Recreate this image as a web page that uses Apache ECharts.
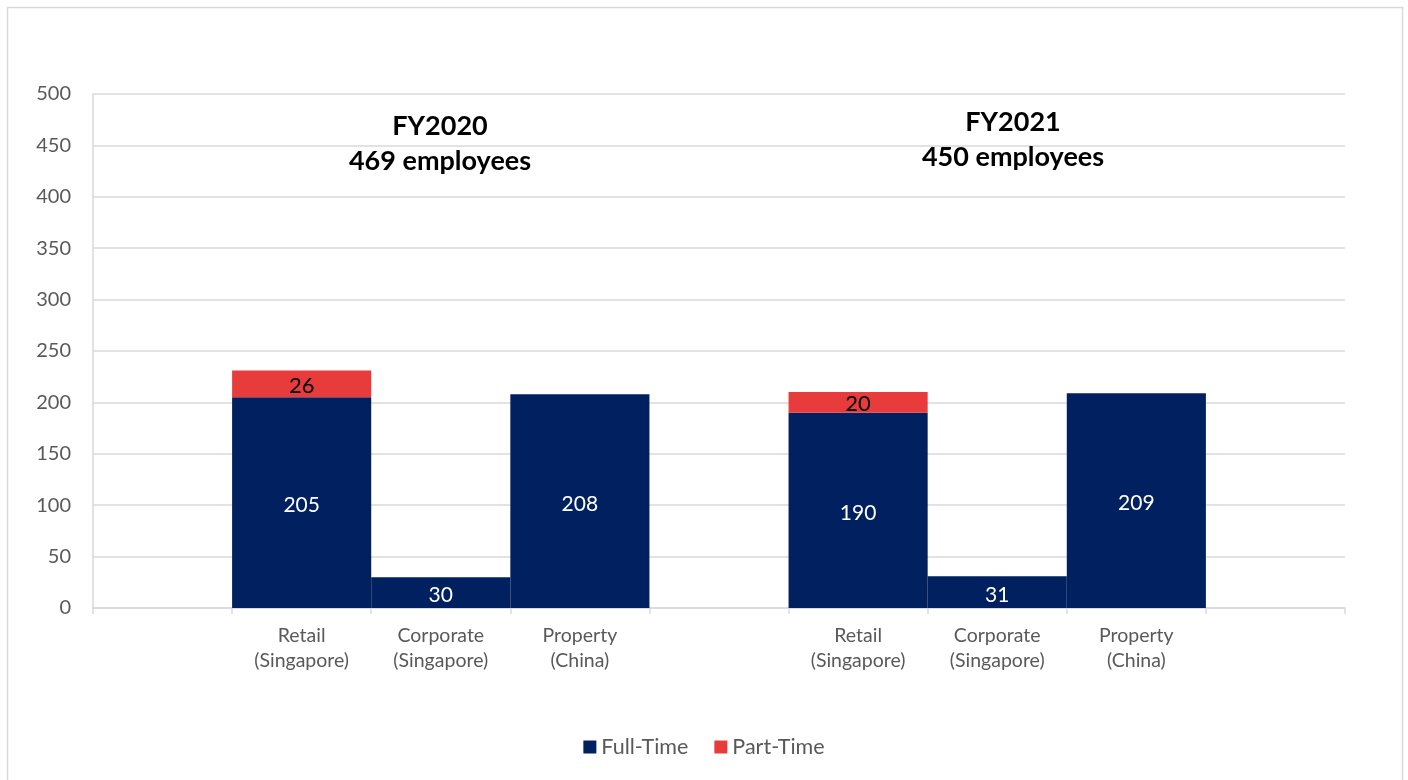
<!DOCTYPE html>
<html>
<head>
<meta charset="utf-8">
<script src="https://cdn.jsdelivr.net/npm/echarts@6/dist/echarts.min.js"></script>
<style>
  html, body { margin: 0; padding: 0; background: #ffffff; }
  #chart { width: 1408px; height: 780px; }
</style>
</head>
<body>
<div id="chart"></div>
<script>
// Categories: empty slots pad the two financial-year groups apart
const categories = ['', 'Retail\n(Singapore)', 'Corporate\n(Singapore)', 'Property\n(China)', '',
                    'Retail\n(Singapore)', 'Corporate\n(Singapore)', 'Property\n(China)', ''];
const fullTime = [null, 205, 30, 208, null, 190, 31, 209, null];
const partTime = [null, 26, null, null, null, 20, null, null, null];
const yTicks = { min: 0, max: 500, interval: 50 };
const groupTitles = ['FY2020\n469 employees', 'FY2021\n450 employees'];

const FONT = 'Lato, "Open Sans", sans-serif';
const GREY_TEXT = '#595959';
const GRID_GREY = '#d9d9d9';

const chart = echarts.init(document.getElementById('chart'), null, { renderer: 'canvas' });

chart.setOption({
  animation: false,
  backgroundColor: '#ffffff',
  textStyle: { fontFamily: FONT },
  graphic: [
    {
      type: 'rect',
      shape: { x: 7.5, y: 7.5, width: 1395, height: 800 },
      style: { fill: 'none', stroke: GRID_GREY, lineWidth: 1.5 },
      silent: true
    }
  ],
  title: [
    {
      text: groupTitles[0],
      left: 435, top: 104, textAlign: 'center',
      textStyle: { fontFamily: FONT, fontSize: 27, fontWeight: 'bold', color: '#000000', lineHeight: 35 }
    },
    {
      text: groupTitles[1],
      left: 1008, top: 100, textAlign: 'center',
      textStyle: { fontFamily: FONT, fontSize: 27, fontWeight: 'bold', color: '#000000', lineHeight: 35 }
    }
  ],
  legend: {
    bottom: 17,
    left: 'center',
    itemWidth: 13,
    itemHeight: 13,
    itemGap: 26,
    icon: 'rect',
    textStyle: { fontFamily: FONT, fontSize: 21.5, color: GREY_TEXT },
    data: ['Full-Time', 'Part-Time']
  },
  grid: { left: 93, right: 63, top: 94, bottom: 172, containLabel: false },
  xAxis: {
    type: 'category',
    data: categories,
    boundaryGap: true,
    axisLine: { show: true, lineStyle: { color: GRID_GREY, width: 1.5 } },
    axisTick: { show: true, alignWithLabel: false, interval: 0, length: 6, lineStyle: { color: GRID_GREY, width: 1.5 } },
    axisLabel: {
      interval: 0,
      margin: 15,
      fontFamily: FONT,
      fontSize: 19.5,
      lineHeight: 25,
      color: GREY_TEXT
    }
  },
  yAxis: {
    type: 'value',
    min: yTicks.min,
    max: yTicks.max,
    interval: yTicks.interval,
    axisLine: { show: true, lineStyle: { color: GRID_GREY, width: 1.5 } },
    axisTick: { show: false },
    splitLine: { show: true, lineStyle: { color: GRID_GREY, width: 1.5 } },
    axisLabel: { fontFamily: FONT, fontSize: 20, color: GREY_TEXT, margin: 22 }
  },
  series: [
    {
      name: 'Full-Time',
      type: 'bar',
      stack: 'staff',
      data: fullTime,
      barWidth: '100%',
      itemStyle: { color: '#002060' },
      label: {
        show: true,
        position: 'inside',
        offset: [0, 3],
        color: '#ffffff',
        fontFamily: FONT,
        fontSize: 21
      }
    },
    {
      name: 'Part-Time',
      type: 'bar',
      stack: 'staff',
      data: partTime,
      barWidth: '100%',
      itemStyle: { color: '#e83b3b' },
      label: {
        show: true,
        position: 'inside',
        offset: [0, 2],
        color: '#000000',
        fontFamily: FONT,
        fontSize: 22
      }
    }
  ]
});
</script>
</body>
</html>
